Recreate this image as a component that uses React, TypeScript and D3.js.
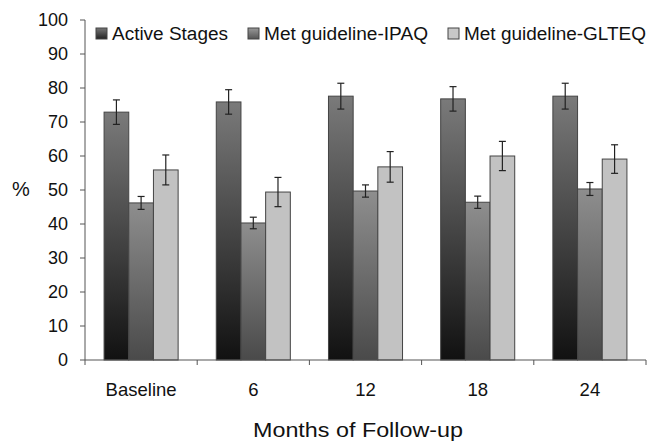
import React from "react";
import * as d3 from "d3";

const categories = ["Baseline", "6", "12", "18", "24"];
const seriesNames = ["Active Stages", "Met guideline-IPAQ", "Met guideline-GLTEQ"];
const activeStages = [72.9, 75.9, 77.6, 76.8, 77.6];
const activeErr = [3.6, 3.6, 3.8, 3.6, 3.8];
const ipaq = [46.2, 40.3, 49.7, 46.4, 50.3];
const ipaqErr = [1.9, 1.7, 1.8, 1.8, 1.9];
const gltEq = [55.9, 49.4, 56.8, 60.0, 59.1];
const gltEqErr = [4.4, 4.3, 4.5, 4.3, 4.2];
const yTicks = [0, 10, 20, 30, 40, 50, 60, 70, 80, 90, 100];

const W = 651;
const H = 442;
const left = 85;
const right = 646;
const top = 20;
const bottom = 360;

export default function App() {
  const x = d3.scaleBand<string>().domain(categories).range([left, right]).paddingInner(0.34).paddingOuter(0.17);
  const xs = d3.scaleBand<number>().domain([0, 1, 2]).range([0, x.bandwidth()]);
  const y = d3.scaleLinear().domain([0, 100]).range([bottom, top]);
  const series = [
    { vals: activeStages, err: activeErr, fill: "url(#gActive)" },
    { vals: ipaq, err: ipaqErr, fill: "url(#gIpaq)" },
    { vals: gltEq, err: gltEqErr, fill: "#c2c2c2" },
  ];
  const legendFills = ["url(#gLegA)", "url(#gLegB)", "#c8c8c8"];
  const legendX = [96, 248, 448];
  const legendLen = [116, 164, 182];
  const font = "Liberation Sans, Arial, sans-serif";
  const catStep = (right - left) / categories.length;

  return (
    <svg width={W} height={H} style={{ position: "absolute", left: 0, top: 0, background: "#fff" }}>
      <defs>
        <linearGradient id="gActive" x1="0" y1="0" x2="0" y2="1">
          <stop offset="0" stopColor="#7a7a7a" />
          <stop offset="1" stopColor="#111111" />
        </linearGradient>
        <linearGradient id="gIpaq" x1="0" y1="0" x2="0" y2="1">
          <stop offset="0" stopColor="#8e8e8e" />
          <stop offset="1" stopColor="#4a4a4a" />
        </linearGradient>
        <linearGradient id="gLegA" x1="0" y1="0" x2="0" y2="1">
          <stop offset="0" stopColor="#777" />
          <stop offset="1" stopColor="#222" />
        </linearGradient>
        <linearGradient id="gLegB" x1="0" y1="0" x2="0" y2="1">
          <stop offset="0" stopColor="#999" />
          <stop offset="1" stopColor="#555" />
        </linearGradient>
      </defs>

      {/* bars */}
      {series.map((s, si) =>
        categories.map((c, ci) => {
          const bx = (x(c) as number) + (xs(si) as number);
          const bw = xs.bandwidth();
          const v = s.vals[ci];
          const e = s.err[ci];
          const cx = bx + bw / 2;
          return (
            <g key={`${si}-${ci}`}>
              <rect x={bx} y={y(v)} width={bw} height={y(0) - y(v)} fill={s.fill} stroke="#444" strokeWidth={1} />
              <line x1={cx} x2={cx} y1={y(v + e)} y2={y(v - e)} stroke="#222" strokeWidth={1.2} />
              <line x1={cx - 3.5} x2={cx + 3.5} y1={y(v + e)} y2={y(v + e)} stroke="#222" strokeWidth={1.2} />
              <line x1={cx - 3.5} x2={cx + 3.5} y1={y(v - e)} y2={y(v - e)} stroke="#222" strokeWidth={1.2} />
            </g>
          );
        })
      )}

      {/* y axis */}
      <line x1={left} x2={left} y1={y(100)} y2={y(0)} stroke="#555" strokeWidth={1} />
      {yTicks.map((t) => (
        <g key={t}>
          <line x1={left - 5} x2={left} y1={y(t)} y2={y(t)} stroke="#555" strokeWidth={1} />
          <text x={68} y={y(t)} dy="0.36em" textAnchor="end" fontFamily={font} fontSize={18} fill="#111">
            {t}
          </text>
        </g>
      ))}
      <text x={12} y={196} fontFamily={font} fontSize={20} fill="#111">%</text>

      {/* x axis */}
      <line x1={left} x2={right} y1={y(0)} y2={y(0)} stroke="#555" strokeWidth={1} />
      {d3.range(categories.length + 1).map((i) => (
        <line key={i} x1={left + i * catStep} x2={left + i * catStep} y1={y(0)} y2={y(0) + 5} stroke="#555" strokeWidth={1} />
      ))}
      {categories.map((c) => (
        <text key={c} x={(x(c) as number) + x.bandwidth() / 2} y={396} textAnchor="middle" fontFamily={font} fontSize={18.5} fill="#111">
          {c}
        </text>
      ))}
      <text x={253} y={437} textLength={210} lengthAdjust="spacingAndGlyphs" fontFamily={font} fontSize={20} fill="#111">
        Months of Follow-up
      </text>

      {/* legend */}
      {seriesNames.map((n, i) => (
        <g key={n}>
          <rect x={legendX[i]} y={28} width={11} height={11} fill={legendFills[i]} stroke="#444" strokeWidth={1} />
          <text x={legendX[i] + 16} y={40} textLength={legendLen[i]} lengthAdjust="spacingAndGlyphs" fontFamily={font} fontSize={18} fill="#111">
            {n}
          </text>
        </g>
      ))}
    </svg>
  );
}
